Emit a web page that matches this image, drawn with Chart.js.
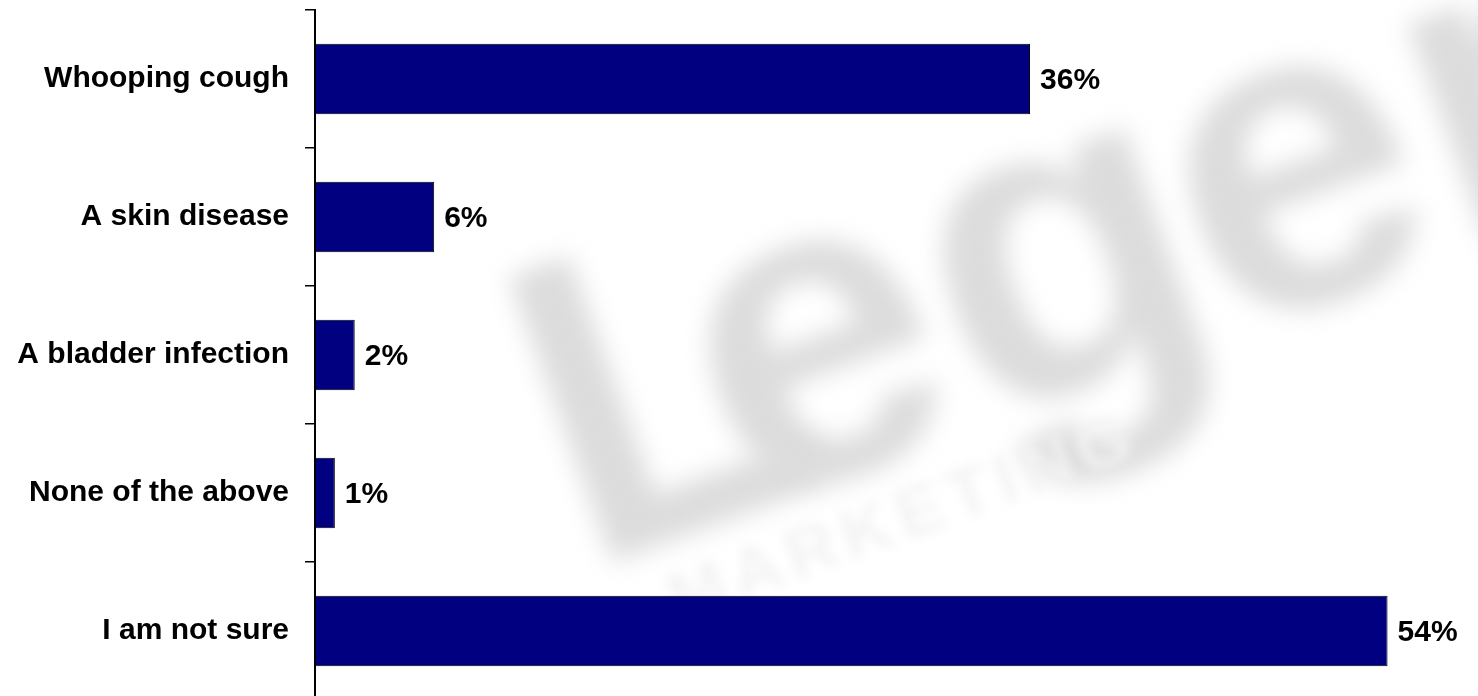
<!DOCTYPE html>
<html>
<head>
<meta charset="utf-8">
<script src="https://cdn.jsdelivr.net/npm/chart.js@4"></script>
<style>
  html, body { margin: 0; padding: 0; background: #fff; overflow: hidden; }
  #wrap { width: 1478px; height: 700px; }
</style>
</head>
<body>
<div id="wrap"><canvas id="myChart" width="1478" height="700"></canvas></div>
<script>
var labels = ['Whooping cough', 'A skin disease', 'A bladder infection', 'None of the above', 'I am not sure'];
var values = [36, 6, 2, 1, 54];
var valueLabels = ['36%', '6%', '2%', '1%', '54%'];

var FONT = '"Liberation Sans", Arial, sans-serif';

// faint blurred logo behind the chart
var logoLetters = ['L', 'e', 'g', 'e', 'r'];
var logoOffsets = [0, 170, 420, 680, 930];
var watermark = {
    id: 'watermark',
    beforeDraw: function(chart) {
        var c = chart.ctx;
        c.save();
        c.translate(585, 572);
        c.rotate(-20 * Math.PI / 180);
        c.filter = 'blur(13px)';
        c.fillStyle = '#dcdcdc';
        c.font = 'bold 440px ' + FONT;
        logoLetters.forEach(function(ch, i) {
            c.fillText(ch, logoOffsets[i], 0);
        });
        c.filter = 'blur(6px)';
        c.fillStyle = '#f3f3f3';
        c.font = 'bold 70px ' + FONT;
        c.letterSpacing = '8px';
        c.fillText('MARKETING', 70, 80);
        c.restore();
    }
};

// percentage labels at the end of each bar
var barLabels = {
    id: 'barLabels',
    afterDatasetsDraw: function(chart) {
        var c = chart.ctx;
        var meta = chart.getDatasetMeta(0);
        c.save();
        c.font = 'bold 30px ' + FONT;
        c.fillStyle = '#000';
        c.textAlign = 'left';
        c.textBaseline = 'middle';
        meta.data.forEach(function(bar, i) {
            c.fillText(valueLabels[i], bar.x + 10, bar.y + 2);
        });
        c.restore();
    }
};

var ctx = document.getElementById('myChart').getContext('2d');
var myChart = new Chart(ctx, {
    type: 'bar',
    data: {
        labels: labels,
        datasets: [{
            data: values,
            backgroundColor: '#000080',
            borderColor: '#000000',
            borderWidth: 1,
            borderSkipped: false,
            categoryPercentage: 1,
            barPercentage: 0.51
        }]
    },
    options: {
        indexAxis: 'y',
        responsive: false,
        animation: false,
        layout: { padding: { top: 10, right: 11, bottom: 0, left: 0 } },
        plugins: {
            legend: { display: false },
            tooltip: { enabled: false }
        },
        scales: {
            x: {
                display: false,
                min: 0,
                max: 58
            },
            y: {
                afterFit: function(scale) {
                    scale.width = 315;
                    scale.paddingTop = 0;
                    scale.paddingBottom = 0;
                },
                grid: {
                    offset: true,
                    drawOnChartArea: false,
                    drawTicks: true,
                    tickLength: 10,
                    color: '#000',
                    lineWidth: 1.5
                },
                border: { display: true, color: '#000', width: 2 },
                ticks: {
                    padding: 16,
                    color: '#000',
                    font: { family: FONT, size: 30, weight: 'bold' }
                }
            }
        }
    },
    plugins: [watermark, barLabels]
});
</script>
</body>
</html>
